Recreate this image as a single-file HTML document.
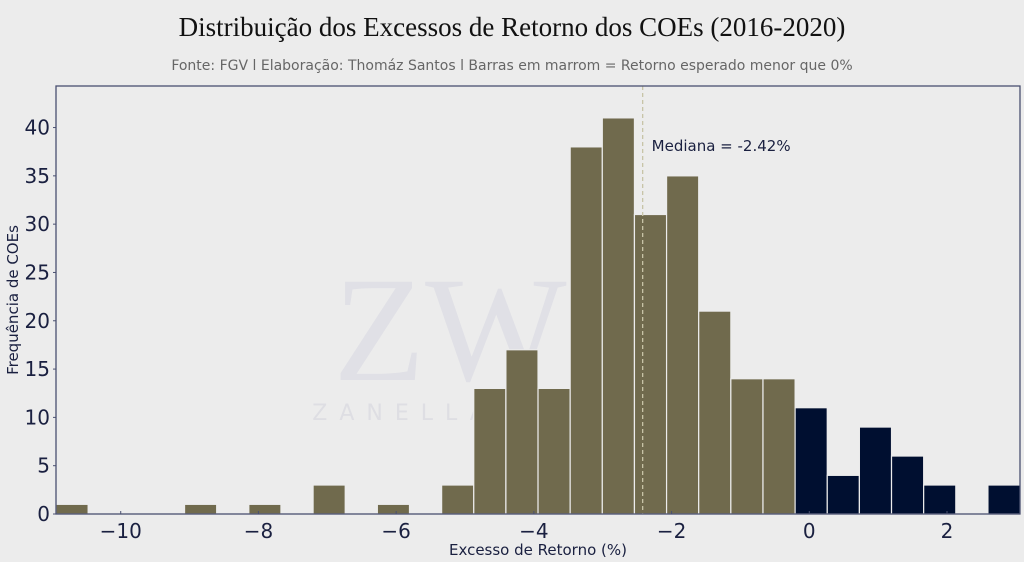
<!DOCTYPE html>
<html><head><meta charset="utf-8"><style>
body{margin:0;background:#ececec;}
svg{display:block;font-family:"DejaVu Sans","Liberation Sans",sans-serif;}
</style></head><body>
<svg id="chart" width="1024" height="562">
<rect width="1024" height="562" fill="#ececec"/>
<text x="512" y="36" text-anchor="middle" font-family="Liberation Serif,serif" font-size="27" fill="#111">Distribuição dos Excessos de Retorno dos COEs (2016-2020)</text>
<text x="512" y="70" text-anchor="middle" font-size="14" fill="#666">Fonte: FGV l Elaboração: Thomáz Santos l Barras em marrom = Retorno esperado menor que 0%</text>
<text x="495" y="420" text-anchor="middle" font-size="22" fill="#dedee3" letter-spacing="12">ZANELLA WEALTH</text>
<text x="450" y="380" text-anchor="middle" font-family="Liberation Serif,serif" font-size="150" fill="#e0e0e6">ZW</text>
<g id="bars"></g>
<g id="axes"></g>
</svg>
<script>
const counts=[1,0,0,0,1,0,1,0,3,0,1,0,3,13,17,13,38,41,31,35,21,14,14,11,4,9,6,3,0,3];
const binStart=-10.94;
const binWidth=0.4667;
const yTicks=[0,5,10,15,20,25,30,35,40];
const xTicks=[-10,-8,-6,-4,-2,0,2];
const median=-2.42;
const xmin=-10.94,xmax=3.06,ymax=44.3;
const L=56,R=1020,T=86,B=514;
const sx=v=>L+(v-xmin)/(xmax-xmin)*(R-L);
const sy=v=>B-v/ymax*(B-T);
const NS="http://www.w3.org/2000/svg";
const mk=(t,a)=>{const e=document.createElementNS(NS,t);for(const k in a)e.setAttribute(k,a[k]);return e;};
const bars=document.getElementById('bars'),axes=document.getElementById('axes');
counts.forEach((c,i)=>{
  if(c<=0)return;
  const x0=binStart+i*binWidth,x1=x0+binWidth;
  const r=mk('rect',{x:sx(x0),y:sy(c),width:sx(x1)-sx(x0),height:sy(0)-sy(c),fill:x0>=-0.25?'#000f30':'#706a4d',stroke:'#ececec','stroke-width':1.2});
  
  
  bars.appendChild(r);
});
const ml=mk('line',{x1:sx(median),x2:sx(median),y1:T,y2:B,stroke:'#c8c4a8','stroke-width':1.3,'stroke-dasharray':'4,3'});


bars.appendChild(ml);
const mt=mk('text',{x:sx(median)+9,y:151,'font-size':15,fill:'#1a2040'});
mt.textContent='Mediana = '+median.toFixed(2)+'%';


bars.appendChild(mt);
const frame=mk('rect',{x:L,y:T,width:R-L,height:B-T,fill:'none',stroke:'#4a5070','stroke-width':1.3});


axes.appendChild(frame);
yTicks.forEach(v=>{
  const t=mk('text',{x:L-6,y:sy(v)+7,'text-anchor':'end','font-size':20,fill:'#1a2040'});
  t.textContent=v;
  
  
  axes.appendChild(t);
  const tk=mk('line',{x1:L-3,x2:L,y1:sy(v),y2:sy(v),stroke:'#4a5070'});
  
  
  axes.appendChild(tk);
});
xTicks.forEach(v=>{
  const t=mk('text',{x:sx(v),y:538,'text-anchor':'middle','font-size':20,fill:'#1a2040'});
  t.textContent=v<0?'\u2212'+Math.abs(v):v;
  
  
  axes.appendChild(t);
  const tk=mk('line',{x1:sx(v),x2:sx(v),y1:B-3,y2:B,stroke:'#4a5070'});
  
  
  axes.appendChild(tk);
});
const xt=mk('text',{x:538,y:555,'text-anchor':'middle','font-size':15,fill:'#1a2040'});
xt.textContent='Excesso de Retorno (%)';


axes.appendChild(xt);
const yt=mk('text',{x:0,y:0,'text-anchor':'middle','font-size':15,fill:'#1a2040',transform:'translate(18,300) rotate(-90)'});
yt.textContent='Frequência de COEs';


axes.appendChild(yt);
</script>
</body></html>
